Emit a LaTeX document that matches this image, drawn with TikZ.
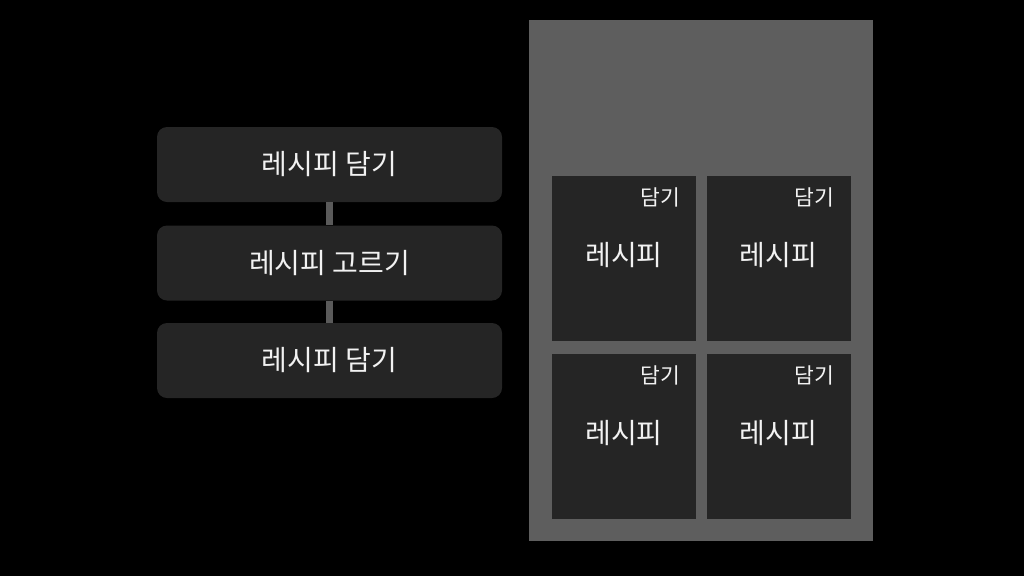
\documentclass[tikz,border=0pt]{standalone}
\usepackage{fontspec}
\newfontfamily\kr{Noto Sans CJK KR}
\definecolor{boxfill}{HTML}{252525}
\definecolor{panel}{HTML}{5E5E5E}
\definecolor{link}{HTML}{5A5A5A}
\definecolor{txt}{HTML}{F2F2F2}
\begin{document}
\begin{tikzpicture}[x=1pt,y=-1pt,
  stepbox/.style={fill=boxfill,rounded corners=10pt,minimum width=345pt,minimum height=75pt,inner sep=0pt,
    text=txt,font=\kr\fontsize{28}{32}\selectfont},
  card/.style={fill=boxfill,minimum width=144pt,minimum height=165pt,inner sep=0pt},
  cardtitle/.style={text=txt,font=\kr\fontsize{28}{32}\selectfont,inner sep=0pt},
  cardtag/.style={text=txt,font=\kr\fontsize{21.5}{25}\selectfont,inner sep=0pt,anchor=east},
  linkbar/.style={draw=link,line width=7pt}]
\fill[black] (0,0) rectangle (1024,576);
\useasboundingbox (0,0) rectangle (1024,576);
% left steps
\node[stepbox] (s1) at (329.5,164.5) {레시피 담기};
\node[stepbox] (s2) at (329.5,263) {레시피 고르기};
\node[stepbox] (s3) at (329.5,360.5) {레시피 담기};
\draw[linkbar] (s1.south) -- (s2.north);
\draw[linkbar] (s2.south) -- (s3.north);
% right panel
\fill[panel] (529,20) rectangle (873,541);
\node[card] (c1) at (624,258.5) {};
\node[card] (c2) at (778.5,258.5) {};
\node[card] (c3) at (624,436.5) {};
\node[card] (c4) at (778.5,436.5) {};
\foreach \c in {c1,c2,c3,c4}{
  \node[cardtag] (\c tag) at ([xshift=-16pt,yshift=-22pt]\c.north east) {담기};
  \node[cardtitle] (\c title) at ([yshift=3pt]\c.center) {레시피};
}
\end{tikzpicture}
\end{document}
